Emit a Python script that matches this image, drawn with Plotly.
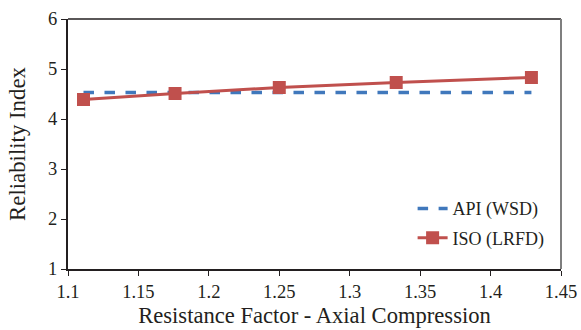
import plotly.graph_objects as go

# Resistance factor (axial compression) and reliability index per design method
resistance_factor = [1.111, 1.176, 1.25, 1.333, 1.429]
api_wsd = [4.53, 4.53, 4.53, 4.53, 4.53]
iso_lrfd = [4.39, 4.51, 4.63, 4.73, 4.83]

x_ticks = [1.1, 1.15, 1.2, 1.25, 1.3, 1.35, 1.4, 1.45]
x_tick_text = ["1.1", "1.15", "1.2", "1.25", "1.3", "1.35", "1.4", "1.45"]
y_ticks = [1, 2, 3, 4, 5, 6]

SERIF = "'Liberation Serif', 'Times New Roman', 'DejaVu Serif', serif"
TXT = "#231f20"

fig = go.Figure()
fig.add_trace(go.Scatter(
    x=resistance_factor, y=api_wsd, name="API (WSD)", mode="lines",
    legendgroup="api",
    line=dict(color="#4078BC", width=3.5, dash="dash"),
))
fig.add_trace(go.Scatter(
    x=resistance_factor, y=iso_lrfd, name="ISO (LRFD)", mode="lines+markers",
    legendgroup="iso",
    line=dict(color="#C0504D", width=3),
    marker=dict(symbol="square", size=13, color="#C0504D"),
))

fig.update_layout(
    width=581, height=330,
    margin=dict(l=68, r=20, t=19, b=61),
    plot_bgcolor="white", paper_bgcolor="white",
    font=dict(family=SERIF, size=18, color=TXT),
    showlegend=True,
    legend=dict(
        x=0.699, y=0.315, xanchor="left", yanchor="top",
        traceorder="grouped", tracegroupgap=3,
        bgcolor="rgba(0,0,0,0)", font=dict(family=SERIF, size=18, color=TXT),
    ),
    xaxis=dict(
        range=[1.1, 1.45], tickvals=x_ticks, ticktext=x_tick_text,
        showgrid=False, zeroline=False, automargin=False,
        showline=True, linecolor="#231f20", linewidth=2,
        ticks="outside", ticklen=5, tickcolor="#231f20",
        tickfont=dict(family=SERIF, size=18.5),
        title=dict(text="Resistance Factor - Axial Compression",
                   font=dict(family=SERIF, size=22.6), standoff=6),
    ),
    yaxis=dict(
        range=[1, 6], tickvals=y_ticks,
        showgrid=False, zeroline=False, automargin=False,
        showline=True, linecolor="#231f20", linewidth=2,
        ticks="outside", ticklen=5, tickcolor="#231f20",
        tickfont=dict(family=SERIF, size=18.5),
        title=dict(text="Reliability Index",
                   font=dict(family=SERIF, size=22.8), standoff=16),
    ),
    shapes=[
        dict(type="line", xref="paper", yref="paper", x0=0, x1=1, y0=1, y1=1,
             line=dict(color="#231f20", width=1.5)),
        dict(type="line", xref="paper", yref="paper", x0=1, x1=1, y0=0, y1=1,
             line=dict(color="#7f7f7f", width=2)),
    ],
)

fig.write_html("out.html")
